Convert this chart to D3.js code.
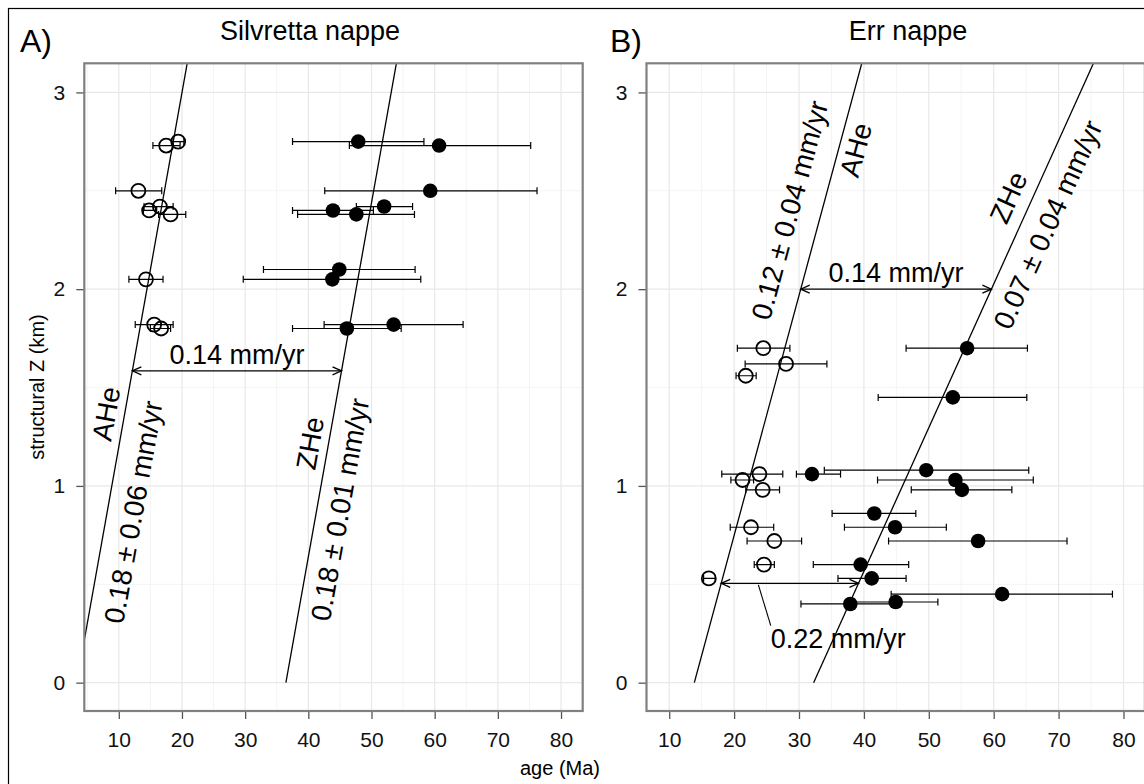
<!DOCTYPE html>
<html>
<head>
<meta charset="utf-8">
<script src="https://cdn.jsdelivr.net/npm/d3@7"></script>
<style>
body { margin: 0; background: #fff; }
text { font-family: "Liberation Sans", Arial, Helvetica, sans-serif; }
</style>
</head>
<body>
<svg id="fig" width="1144" height="784"></svg>
<script>
// rows: [structural Z (km), age (Ma), age min, age max]
var silvrettaAHe = [
	[2.75, 19.4, 18.4, 20.3],
	[2.73, 17.5, 15.4, 19.7],
	[2.50, 13.1, 9.5, 16.8],
	[2.42, 16.5, 14.0, 18.6],
	[2.40, 14.8, 13.9, 16.0],
	[2.38, 18.2, 16.3, 20.6],
	[2.05, 14.3, 11.6, 17.0],
	[1.82, 15.6, 12.6, 18.6],
	[1.80, 16.7, 15.0, 18.2]
]
var silvrettaZHe = [
	[2.75, 47.9, 37.5, 58.3],
	[2.73, 60.7, 46.5, 75.2],
	[2.50, 59.3, 42.6, 76.2],
	[2.42, 52.0, 47.6, 56.5],
	[2.40, 43.9, 37.5, 50.3],
	[2.38, 47.6, 38.3, 56.8],
	[2.10, 44.9, 32.9, 56.9],
	[2.05, 43.8, 29.7, 57.8],
	[1.82, 53.5, 42.5, 64.5],
	[1.80, 46.1, 37.5, 54.7]
]
var errAHe = [
	[1.70, 24.5, 20.5, 28.6],
	[1.62, 28.0, 21.7, 34.3],
	[1.56, 21.8, 20.3, 23.4],
	[1.06, 23.9, 18.1, 27.5],
	[1.03, 21.3, 19.5, 23.0],
	[0.98, 24.4, 21.8, 27.0],
	[0.79, 22.6, 19.4, 26.1],
	[0.72, 26.2, 22.0, 30.4],
	[0.60, 24.6, 23.1, 26.2],
	[0.53, 16.1, 15.3, 17.1]
]
var errZHe = [
	[1.70, 55.9, 46.5, 65.2],
	[1.45, 53.7, 42.2, 65.1],
	[1.06, 32.0, 29.6, 36.4],
	[1.08, 49.6, 33.9, 65.4],
	[1.03, 54.1, 42.1, 66.1],
	[0.98, 55.1, 47.3, 62.8],
	[0.86, 41.6, 35.1, 48.0],
	[0.79, 44.8, 37.0, 52.7],
	[0.72, 57.6, 43.8, 71.3],
	[0.60, 39.5, 32.2, 46.9],
	[0.53, 41.2, 36.0, 46.5],
	[0.45, 61.3, 44.2, 78.3],
	[0.41, 44.9, 38.5, 51.4],
	[0.40, 37.9, 30.3, 45.5]
]

// age-elevation fits: [age at Z = 0, rate (km/Myr)]
var silvrettaFitAHe = [3.34, 0.18]
var silvrettaFitZHe = [36.45, 0.18]
var errFitAHe = [13.87, 0.122]
var errFitZHe = [32.25, 0.073]

// text along the fits: [which fit, text, Z of text centre, offset px]
var silvrettaLabels = [
	["AHe", "AHe", 1.35, -18],
	["AHe", "0.18 ± 0.06 mm/yr", 0.89, 26],
	["ZHe", "ZHe", 1.2, -18],
	["ZHe", "0.18 ± 0.01 mm/yr", 0.9, 23]
]
var errLabels = [
	["AHe", "0.12 ± 0.04 mm/yr", 2.36, -31],
	["AHe", "AHe", 2.73, 17],
	["ZHe", "ZHe", 2.42, -22],
	["ZHe", "0.07 ± 0.04 mm/yr", 2.38, 25]
]

// rate arrows between the fits: [Z, text]
var silvrettaArrows = [[1.585, "0.14 mm/yr"]]
var errArrows = [[2.0, "0.14 mm/yr"], [0.505, ""]]
// leader for the lower arrow in B: [age, Z] from, to, text start
var errLeader = [[23.74, 0.497], [25.65, 0.29], [25.65, 0.176]]

var xTicks = [10, 20, 30, 40, 50, 60, 70, 80]
var yTicks = [0, 1, 2, 3]

var svg = d3.select("#fig")
svg.append("rect").attr("width", 1144).attr("height", 784).attr("fill", "#fff")
svg.append("rect")
	.attr("x", 8.5).attr("y", 8.5).attr("width", 1300).attr("height", 1000)
	.attr("fill", "none").attr("stroke", "#000").attr("stroke-width", 1.2)

var y = d3.scaleLinear().domain([-0.144, 3.148]).range([711, 63.3])

function drawPanel(p){
	var x = d3.scaleLinear().domain(p.xdom).range(p.xrange)
	var x0 = p.xrange[0], x1 = p.xrange[1]
	var y0 = y.range()[1], y1 = y.range()[0]
	var fits = {AHe: p.fitAHe, ZHe: p.fitZHe}
	var ageAt = function(f, z){ return f[0] + z / f[1] }

	svg.append("clipPath").attr("id", "clip" + p.id)
		.append("rect").attr("x", x0).attr("y", y0).attr("width", x1 - x0).attr("height", y1 - y0)

	var g = svg.append("g")

	// grid
	var minorX = d3.range(5, 90, 10).filter(d => d > p.xdom[0] && d < p.xdom[1])
	g.selectAll(".mx").data(minorX).join("line")
		.attr("x1", d => x(d)).attr("x2", d => x(d)).attr("y1", y0).attr("y2", y1)
		.attr("stroke", "#f4f4f4").attr("stroke-width", 1)
	g.selectAll(".my").data([0.5, 1.5, 2.5]).join("line")
		.attr("x1", x0).attr("x2", x1).attr("y1", d => y(d)).attr("y2", d => y(d))
		.attr("stroke", "#f4f4f4").attr("stroke-width", 1)
	g.selectAll(".gx").data(xTicks).join("line")
		.attr("x1", d => x(d)).attr("x2", d => x(d)).attr("y1", y0).attr("y2", y1)
		.attr("stroke", "#e8e8e8").attr("stroke-width", 1.2)
	g.selectAll(".gy").data(yTicks).join("line")
		.attr("x1", x0).attr("x2", x1).attr("y1", d => y(d)).attr("y2", d => y(d))
		.attr("stroke", "#e8e8e8").attr("stroke-width", 1.2)

	// axes
	var ax = svg.append("g").attr("transform", "translate(0," + y1 + ")")
		.call(d3.axisBottom(x).tickValues(xTicks).tickSize(8).tickPadding(13).tickFormat(d3.format("d")))
	var ay = svg.append("g").attr("transform", "translate(" + x0 + ",0)")
		.call(d3.axisLeft(y).tickValues(yTicks).tickSize(8).tickPadding(11).tickFormat(d3.format("d")))
	;[ax, ay].forEach(function(a){
		a.select(".domain").remove()
		a.selectAll(".tick line").attr("stroke", "#555").attr("stroke-width", 1.3)
		a.selectAll(".tick text").attr("fill", "#111").style("font-size", "21px")
			.style("font-family", '"Liberation Sans", Arial, sans-serif')
	})

	var c = svg.append("g").attr("clip-path", "url(#clip" + p.id + ")")

	// fit lines
	;["AHe", "ZHe"].forEach(function(k){
		c.append("line")
			.attr("x1", x(ageAt(fits[k], 0))).attr("y1", y(0))
			.attr("x2", x(ageAt(fits[k], 3.4))).attr("y2", y(3.4))
			.attr("stroke", "#000").attr("stroke-width", 1.3)
	})

	// error bars
	var all = p.ahe.concat(p.zhe)
	var eb = c.selectAll(".eb").data(all).join("g")
	eb.append("line")
		.attr("x1", d => x(d[2])).attr("x2", d => x(d[3]))
		.attr("y1", d => y(d[0])).attr("y2", d => y(d[0]))
		.attr("stroke", "#000").attr("stroke-width", 1.2)
	eb.append("line")
		.attr("x1", d => x(d[2])).attr("x2", d => x(d[2]))
		.attr("y1", d => y(d[0]) - 3.5).attr("y2", d => y(d[0]) + 3.5)
		.attr("stroke", "#000").attr("stroke-width", 1.2)
	eb.append("line")
		.attr("x1", d => x(d[3])).attr("x2", d => x(d[3]))
		.attr("y1", d => y(d[0]) - 3.5).attr("y2", d => y(d[0]) + 3.5)
		.attr("stroke", "#000").attr("stroke-width", 1.2)

	// points
	c.selectAll(".ahe").data(p.ahe).join("circle")
		.attr("cx", d => x(d[1])).attr("cy", d => y(d[0])).attr("r", 7)
		.attr("fill", "none").attr("stroke", "#000").attr("stroke-width", 1.8)
	c.selectAll(".zhe").data(p.zhe).join("circle")
		.attr("cx", d => x(d[1])).attr("cy", d => y(d[0])).attr("r", 7.3)
		.attr("fill", "#000")

	// labels along fits
	p.labels.forEach(function(l){
		var f = fits[l[0]]
		var px = x(ageAt(f, l[2])), py = y(l[2])
		var dx = x(ageAt(f, l[2] + 1)) - px, dy = y(l[2] + 1) - py
		var n = Math.sqrt(dx * dx + dy * dy)
		var ux = dx / n, uy = dy / n
		var cx = px - uy * l[3], cy = py + ux * l[3]
		var ang = Math.atan2(uy, ux) * 180 / Math.PI
		svg.append("text")
			.attr("transform", "translate(" + cx + "," + cy + ") rotate(" + ang + ")")
			.attr("text-anchor", "middle").attr("dominant-baseline", "central")
			.style("font-size", "28px").attr("fill", "#000")
			.text(l[1])
	})

	// rate arrows
	p.arrows.forEach(function(a){
		var xa = x(ageAt(fits.AHe, a[0])), xb = x(ageAt(fits.ZHe, a[0])), ya = y(a[0])
		arrow(xa, xb, ya)
		if (a[1]) {
			svg.append("text").attr("x", (xa + xb) / 2).attr("y", ya - 7)
				.attr("text-anchor", "middle").style("font-size", "27px").text(a[1])
		}
	})

	if (p.leader) {
		var L = p.leader
		svg.append("line")
			.attr("x1", x(L[0][0])).attr("y1", y(L[0][1]))
			.attr("x2", x(L[1][0])).attr("y2", y(L[1][1]))
			.attr("stroke", "#000").attr("stroke-width", 1.1)
		svg.append("text").attr("x", x(L[2][0])).attr("y", y(L[2][1]))
			.style("font-size", "27px").text("0.22 mm/yr")
	}

	// panel border
	svg.append("rect").attr("x", x0).attr("y", y0).attr("width", x1 - x0).attr("height", y1 - y0)
		.attr("fill", "none").attr("stroke", "#808080").attr("stroke-width", 2.2)

	svg.append("text").attr("x", p.letterX).attr("y", 52).style("font-size", "32px").text(p.letter)
	svg.append("text").attr("x", p.titleX).attr("y", 40).attr("text-anchor", "middle")
		.style("font-size", "27px").text(p.title)
}

function arrow(xa, xb, ya){
	var h = 9, w = 4
	svg.append("line").attr("x1", xa).attr("x2", xb).attr("y1", ya).attr("y2", ya)
		.attr("stroke", "#000").attr("stroke-width", 1.3)
	svg.append("path")
		.attr("d", "M" + (xa + h) + "," + (ya - w) + "L" + xa + "," + ya + "L" + (xa + h) + "," + (ya + w) +
			"M" + (xb - h) + "," + (ya - w) + "L" + xb + "," + ya + "L" + (xb - h) + "," + (ya + w))
		.attr("fill", "none").attr("stroke", "#000").attr("stroke-width", 1.3)
}

drawPanel({
	id: "A", xdom: [4.54, 83.43], xrange: [84.3, 582.7],
	ahe: silvrettaAHe, zhe: silvrettaZHe,
	fitAHe: silvrettaFitAHe, fitZHe: silvrettaFitZHe,
	labels: silvrettaLabels, arrows: silvrettaArrows,
	letter: "A)", letterX: 20, title: "Silvretta nappe", titleX: 310
})
drawPanel({
	id: "B", xdom: [6.5, 83.3], xrange: [646.5, 1144.9],
	ahe: errAHe, zhe: errZHe,
	fitAHe: errFitAHe, fitZHe: errFitZHe,
	labels: errLabels, arrows: errArrows, leader: errLeader,
	letter: "B)", letterX: 610, title: "Err nappe", titleX: 908
})

svg.append("text").attr("x", 560).attr("y", 775).attr("text-anchor", "middle")
	.style("font-size", "20px").text("age (Ma)")
svg.append("text").attr("transform", "translate(37,387) rotate(-90)")
	.attr("text-anchor", "middle").attr("dominant-baseline", "central")
	.style("font-size", "20px").text("structural Z (km)")
</script>
</body>
</html>
